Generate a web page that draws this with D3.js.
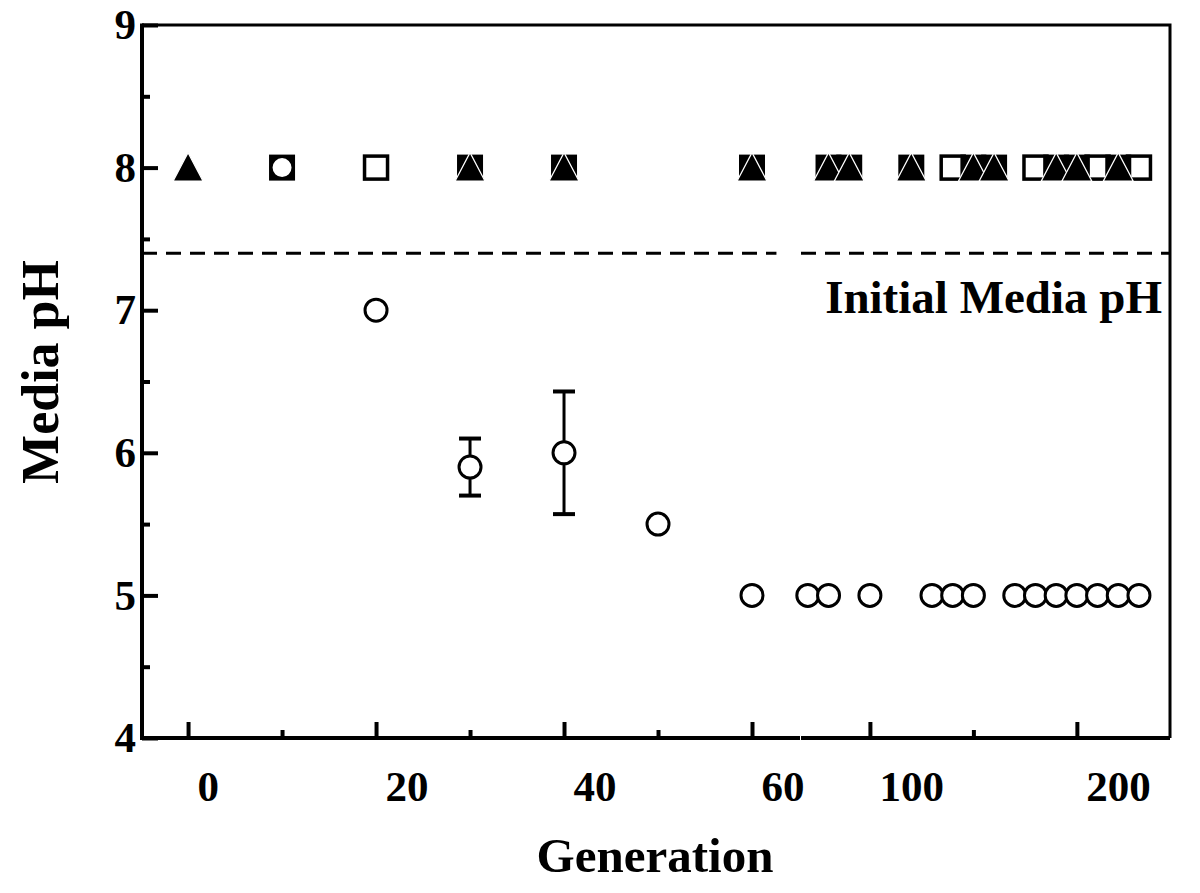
<!DOCTYPE html>
<html>
<head>
<meta charset="utf-8">
<script src="https://cdn.jsdelivr.net/npm/d3@7"></script>
<style>
  body { margin: 0; background: #fff; }
  svg { display: block; }
  text { font-family: "Liberation Serif", "Times New Roman", serif; font-weight: bold; fill: #000; }
</style>
</head>
<body>
<svg id="chart" width="1200" height="893"></svg>
<script>
// values
const circleGens = [10, 20, 30, 40, 50, 60, 70, 80, 100, 130, 140, 150, 170, 180, 190, 200, 210, 220, 230];
const circlePH   = [8, 7, 5.9, 6.0, 5.5, 5, 5, 5, 5, 5, 5, 5, 5, 5, 5, 5, 5, 5, 5];
const errGens = [30, 40];
const errPH   = [5.9, 6.0];
const errSize = [0.2, 0.43];
const triangleGens = [0, 30, 40, 60, 80, 90, 120, 150, 160, 190, 200, 220];
const trianglePH   = [8, 8, 8, 8, 8, 8, 8, 8, 8, 8, 8, 8];
const filledSquareGens = [10, 30, 40, 60, 80, 90, 120, 150, 160, 190, 200, 220];
const filledSquarePH   = [8, 8, 8, 8, 8, 8, 8, 8, 8, 8, 8, 8];
const openSquareGens = [20, 140, 180, 210, 230];
const openSquarePH   = [8, 8, 8, 8, 8];
const initialPH = 7.4;
const xMajorTicks = [0, 20, 40, 60, 100, 200];
const xMinorTicks = [10, 30, 50, 150];
const yMajorTicks = [4, 5, 6, 7, 8, 9];
const yMinorTicks = [4.5, 5.5, 6.5, 7.5, 8.5];

class GenerationChart {

    constructor({ svgSelector }) {
        this.svg = d3.select(svgSelector);
        // broken x axis: linear 0-65, then a compressed segment up to ~245
        this.xScale = d3.scaleLinear()
            .domain([-4.9, 65, 66.7, 245])
            .range([142, 799, 801, 1170]);
        this.yScale = d3.scaleLinear().domain([4, 9]).range([738, 25]);
    }

    zip(gens, vals) {
        return gens.map((g, i) => [g, vals[i]]);
    }

    drawAxes() {
        const x = this.xScale, y = this.yScale;
        const x0 = x.range()[0], x1 = x.range()[3];
        const y0 = y.range()[0], y1 = y.range()[1];

        // top and right frame
        this.svg.append("path")
            .attr("d", `M${x0},${y1}H${x1}V${y0}`)
            .attr("fill", "none").attr("stroke", "#000").attr("stroke-width", 3);

        // x axis
        const gx = this.svg.append("g").attr("transform", `translate(0,${y0})`);
        gx.call(d3.axisBottom(x).tickValues(xMajorTicks).tickSize(-16).tickSizeOuter(0)
            .tickFormat(d3.format("d")));
        gx.select(".domain").remove();
        gx.selectAll(".tick line").attr("stroke-width", 4);
        gx.selectAll(".tick text")
            .attr("text-anchor", "start").attr("x", 9).attr("y", 63).attr("dy", 0)
            .style("font-size", "43px");
        const gxm = this.svg.append("g").attr("transform", `translate(0,${y0})`);
        gxm.call(d3.axisBottom(x).tickValues(xMinorTicks).tickSize(-8).tickFormat(""));
        gxm.select(".domain").remove();
        gxm.selectAll(".tick line").attr("stroke-width", 4);
        // axis line in two pieces at the break
        [[x0, x(65.85)], [x(65.85) + 1, x1]].forEach(([a, b]) => {
            this.svg.append("line")
                .attr("x1", a).attr("x2", b).attr("y1", y0).attr("y2", y0)
                .attr("stroke", "#000").attr("stroke-width", 4);
        });

        // y axis
        const gy = this.svg.append("g").attr("transform", `translate(${x0},0)`);
        gy.call(d3.axisLeft(y).tickValues(yMajorTicks).tickSize(-16).tickSizeOuter(0)
            .tickFormat(d3.format("d")).tickPadding(6));
        gy.select(".domain").remove();
        gy.selectAll(".tick line").attr("stroke-width", 4);
        gy.selectAll(".tick text").style("font-size", "43px");
        const gym = this.svg.append("g").attr("transform", `translate(${x0},0)`);
        gym.call(d3.axisLeft(y).tickValues(yMinorTicks).tickSize(-8).tickFormat(""));
        gym.select(".domain").remove();
        gym.selectAll(".tick line").attr("stroke-width", 4);
        this.svg.append("line")
            .attr("x1", x0).attr("x2", x0).attr("y1", y1 - 1.5).attr("y2", y0 + 2)
            .attr("stroke", "#000").attr("stroke-width", 4);
    }

    drawReference() {
        const x = this.xScale, y = this.yScale;
        [[-4.9, 62.6], [66.7, 245]].forEach(([a, b]) => {
            this.svg.append("line")
                .attr("x1", x(a)).attr("x2", x(b))
                .attr("y1", y(initialPH)).attr("y2", y(initialPH))
                .attr("stroke", "#000").attr("stroke-width", 3)
                .attr("stroke-dasharray", "15,9");
        });
        this.svg.append("text")
            .attr("x", 1162).attr("y", y(initialPH) + 60)
            .attr("text-anchor", "end")
            .style("font-size", "47px")
            .text("Initial Media pH");
    }

    drawErrorBars() {
        const x = this.xScale, y = this.yScale;
        const bars = errGens.map((g, i) => ({ g, v: errPH[i], e: errSize[i] }));
        const g = this.svg.append("g").attr("stroke", "#000");
        bars.forEach(d => {
            g.append("line").attr("x1", x(d.g)).attr("x2", x(d.g))
                .attr("y1", y(d.v + d.e)).attr("y2", y(d.v - d.e)).attr("stroke-width", 3);
            [d.v + d.e, d.v - d.e].forEach(v => {
                g.append("line").attr("x1", x(d.g) - 11).attr("x2", x(d.g) + 11)
                    .attr("y1", y(v)).attr("y2", y(v)).attr("stroke-width", 4);
            });
        });
    }

    drawMarkers() {
        const x = this.xScale, y = this.yScale;

        this.svg.append("g").selectAll("rect")
            .data(this.zip(openSquareGens, openSquarePH)).enter().append("rect")
            .attr("x", d => x(d[0]) - 11.5).attr("y", d => y(d[1]) - 11.5)
            .attr("width", 23).attr("height", 23)
            .attr("fill", "#fff").attr("stroke", "#000").attr("stroke-width", 3.5);

        this.svg.append("g").selectAll("rect")
            .data(this.zip(filledSquareGens, filledSquarePH)).enter().append("rect")
            .attr("x", d => x(d[0]) - 13).attr("y", d => y(d[1]) - 13)
            .attr("width", 26).attr("height", 26)
            .attr("fill", "#000");

        this.svg.append("g").selectAll("path")
            .data(this.zip(triangleGens, trianglePH)).enter().append("path")
            .attr("d", "M0,-15L15,13.5L-15,13.5Z")
            .attr("transform", d => `translate(${x(d[0])},${y(d[1])})`)
            .attr("fill", "#000").attr("stroke", "#fff").attr("stroke-width", 1.2);

        this.svg.append("g").selectAll("circle")
            .data(this.zip(circleGens, circlePH)).enter().append("circle")
            .attr("cx", d => x(d[0])).attr("cy", d => y(d[1]))
            .attr("r", 11)
            .attr("fill", "#fff").attr("stroke", "#000").attr("stroke-width", 3);
    }

    createLabels({ xAxisLabel, yAxisLabel }) {
        this.svg.append("text")
            .attr("x", 655).attr("y", 872)
            .attr("text-anchor", "middle")
            .style("font-size", "49px")
            .text(xAxisLabel);

        this.svg.append("text")
            .attr("transform", "translate(58,372) rotate(-90)")
            .attr("text-anchor", "middle")
            .style("font-size", "52px")
            .text(yAxisLabel);
    }
}

const chart = new GenerationChart({ svgSelector: "#chart" });
chart.drawAxes();
chart.drawReference();
chart.drawErrorBars();
chart.drawMarkers();
chart.createLabels({ xAxisLabel: "Generation", yAxisLabel: "Media pH" });
</script>
</body>
</html>
